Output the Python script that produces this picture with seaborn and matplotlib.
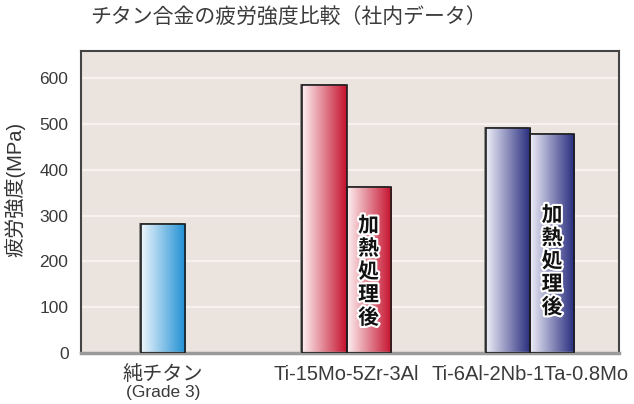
import numpy as np
import pandas as pd
import matplotlib
matplotlib.use("Agg")
import matplotlib.pyplot as plt
import seaborn as sns
from matplotlib.colors import LinearSegmentedColormap
from matplotlib import transforms
from matplotlib.patches import Rectangle
import matplotlib.patheffects as pe

# ---------------- data ----------------
categories = ["純チタン", "Ti-15Mo-5Zr-3Al", "Ti-6Al-2Nb-1Ta-0.8Mo"]
conditions = ["通常", "加熱処理後"]
bar_category = ["純チタン", "Ti-15Mo-5Zr-3Al", "Ti-15Mo-5Zr-3Al",
                "Ti-6Al-2Nb-1Ta-0.8Mo", "Ti-6Al-2Nb-1Ta-0.8Mo"]
bar_condition = ["通常", "通常", "加熱処理後", "通常", "加熱処理後"]
bar_values = [282, 584, 363, 490, 478]
sub_label = "(Grade 3)"
y_ticks = [0, 100, 200, 300, 400, 500, 600]
title = "チタン合金の疲労強度比較（社内データ）"
y_label = "疲労強度(MPa)"
note_text = "加\n熱\n処\n理\n後"
note_y = [178, 201]

# ---------------- style ----------------
plt.rcParams["font.family"] = ["Liberation Sans", "Noto Sans CJK JP"]
cat_colors = {
    "純チタン": ("#eef7fd", "#1d8ed3"),
    "Ti-15Mo-5Zr-3Al": ("#fdf1f2", "#c5102c"),
    "Ti-6Al-2Nb-1Ta-0.8Mo": ("#eeeef8", "#252a7c"),
}

df = pd.DataFrame({"category": bar_category, "condition": bar_condition,
                   "value": bar_values})

fig = plt.figure(figsize=(6.34, 4.04), dpi=100)
ax = fig.add_axes([81 / 634, 51 / 404, 538 / 634, 302 / 404])
ax.set_facecolor("#ebe3de")

sns.barplot(data=df, x="category", y="value", hue="condition",
            order=categories, hue_order=conditions, dodge=True,
            width=0.48, gap=0, legend=False, errorbar=None, ax=ax)

# group the bars per category (nearest category index), recenter lone bars
patches = [p for p in ax.patches if p.get_height() > 0]
groups = {}
for p in patches:
    cx = p.get_x() + p.get_width() / 2
    c = int(np.argmin([abs(cx - i) for i in range(len(categories))]))
    groups.setdefault(c, []).append(p)

grad = np.linspace(0, 1, 256).reshape(1, -1)
shadow_tr = transforms.offset_copy(ax.transData, fig=fig, x=-2, y=1, units="dots")
note_patches = []
for c, plist in groups.items():
    plist.sort(key=lambda q: q.get_x())
    if len(plist) == 1:
        p = plist[0]
        p.set_x(c - p.get_width() / 2)
    c0, c1 = cat_colors[categories[c]]
    cmap = LinearSegmentedColormap.from_list("g", [c0, c1])
    for k, p in enumerate(plist):
        x0, y0, w, h = p.get_x(), p.get_y(), p.get_width(), p.get_height()
        ax.add_patch(Rectangle((x0, y0), w, h, transform=shadow_tr,
                               facecolor="#8e8e8e", edgecolor="none", zorder=2.2))
        im = ax.imshow(grad, cmap=cmap, extent=[x0, x0 + w, y0, y0 + h],
                       aspect="auto", zorder=2.5, interpolation="bicubic")
        im.set_clip_path(p)
        p.set_facecolor("none")
        p.set_edgecolor("#1e1e1e")
        p.set_linewidth(1.2)
        p.set_zorder(3)
        if k == 1:
            note_patches.append(p)

for p, ny in zip(note_patches, note_y):
    ax.text(p.get_x() + p.get_width() / 2, ny, note_text, ha="center", va="center",
            fontsize=15, linespacing=1.12, color="#111111", zorder=4,
            family=["Noto Sans CJK JP"], fontweight="bold",
            path_effects=[pe.withStroke(linewidth=3, foreground="white")])

ax.set_xlim(-0.447, 2.485)
ax.set_ylim(0, 659)
ax.set_aspect("auto")
ax.set_yticks(y_ticks)
ax.set_yticklabels([str(v) for v in y_ticks], fontsize=12.5, color="#3a3a3a")
ax.set_xticks(range(len(categories)))
ax.set_xticklabels(categories, fontsize=14.5, color="#3a3a3a")
ax.tick_params(axis="both", length=0)
ax.tick_params(axis="y", pad=9)
ax.tick_params(axis="x", pad=9)
ax.set_xlabel("")
ax.set_ylabel(y_label, fontsize=14.5, color="#333333", va="center", ha="center")
ax.yaxis.set_label_coords(-0.123, 0.54)

ax.text(0, -0.13, sub_label, transform=ax.get_xaxis_transform(),
        ha="center", va="center", fontsize=12.5, color="#3a3a3a")

ax.yaxis.grid(True, color="#f7f2ef", linewidth=1.6)
ax.xaxis.grid(False)
ax.set_axisbelow(True)
for s in ["left", "top", "right"]:
    ax.spines[s].set_color("#444444")
    ax.spines[s].set_linewidth(1.5)
ax.spines["bottom"].set_color("#9a9a9a")
ax.spines["bottom"].set_linewidth(2.5)

fig.text(288 / 634, 1 - 18 / 404, title, ha="center", va="center",
         fontsize=15, color="#3c3c3c", family=["Noto Sans CJK JP"])

fig.savefig("out.png", dpi=100, facecolor="white")
